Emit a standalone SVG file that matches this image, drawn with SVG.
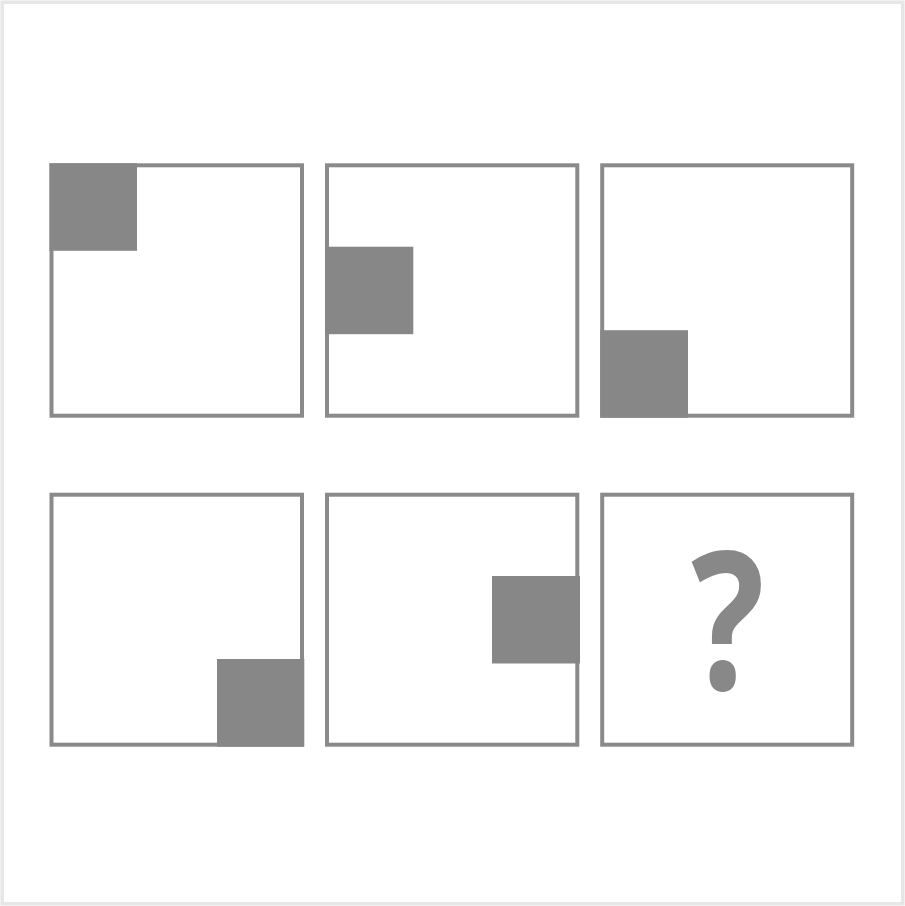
<svg xmlns="http://www.w3.org/2000/svg" width="905" height="906" viewBox="0 0 905 906">
<style>
.frame{fill:#ffffff;stroke:#e6e6e6;stroke-width:3.5}
.box{fill:#ffffff;stroke:#8a8a8a;stroke-width:4}
.sq{fill:#868786}
.q{fill:#878887;font-family:"Open Sans","Liberation Sans",sans-serif;font-weight:700;font-size:192px}
</style>
<rect class="frame" x="2.2" y="2.2" width="900.6" height="901.6"/>
<g id="panel1">
<rect class="box" x="51.5" y="165.3" width="250.5" height="250.4"/>
<rect class="sq" x="49.5" y="163.3" width="87.5" height="87.5"/>
</g>
<g id="panel2">
<rect class="box" x="327" y="165.3" width="250.3" height="250.4"/>
<rect class="sq" x="325" y="246.7" width="88.3" height="87.5"/>
</g>
<g id="panel3">
<rect class="box" x="602.2" y="165.3" width="250" height="250.4"/>
<rect class="sq" x="600.2" y="330.2" width="87.8" height="87.5"/>
</g>
<g id="panel4">
<rect class="box" x="51.5" y="494.7" width="250.5" height="250"/>
<rect class="sq" x="217" y="659" width="87.3" height="87.7"/>
</g>
<g id="panel5">
<rect class="box" x="327" y="494.7" width="250.3" height="250"/>
<rect class="sq" x="492" y="576" width="88" height="87.5"/>
</g>
<g id="panel6">
<rect class="box" x="602.2" y="494.7" width="250" height="250"/>
<text class="q" x="0" y="0" text-anchor="middle" transform="translate(728,689) scale(0.8,1)">?</text>
</g>
</svg>
